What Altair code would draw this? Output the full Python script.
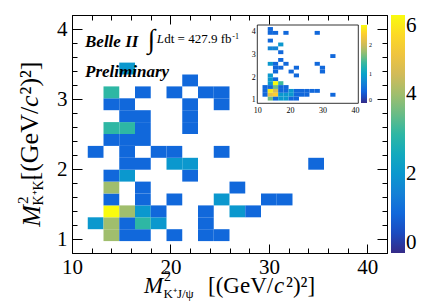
import altair as alt
import pandas as pd

W, H = 315, 238
FONT = "Liberation Serif"

# ---------------- data: main 2D histogram ----------------
bin_x0, bin_dx = 10.0, 1.6
bin_y0, bin_dy = 0.8, 0.17

main_ix = [2, 3, 4, 6, 8, 9,
           1, 2, 3, 4, 5, 8,
           2, 3, 4, 5, 8, 10, 11,
           2, 4, 6, 9, 12, 13,
           2, 4, 10,
           2, 3, 7,
           3, 4, 6, 7, 15,
           1, 3, 5, 6, 9,
           2, 3, 4,
           2, 3, 4, 7,
           3, 4, 7,
           2, 3, 7, 9,
           2, 4, 6, 8, 9,
           7,
           3]
main_iy = [1, 1, 1, 1, 1, 1,
           2, 2, 2, 2, 2, 2,
           3, 3, 3, 3, 3, 3, 3,
           4, 4, 4, 4, 4, 4,
           5, 5, 5,
           6, 6, 6,
           7, 7, 7, 7, 7,
           8, 8, 8, 8, 8,
           9, 9, 9,
           10, 10, 10, 10,
           11, 11, 11,
           12, 12, 12, 12,
           13, 13, 13, 13, 13,
           14,
           15]
main_n = [4, 1, 1, 1, 1, 1,
          2, 4, 1, 3, 2, 1,
          6, 4, 2, 1, 1, 2, 1,
          1, 1, 1, 2, 1, 1,
          4, 1, 1,
          1, 2, 1,
          1, 1, 2, 2, 1,
          1, 1, 1, 1, 1,
          1, 1, 1,
          3, 3, 1, 1,
          1, 1, 1,
          1, 1, 1, 1,
          3, 1, 1, 1, 1,
          1,
          2]

# ---------------- data: inset histogram ----------------
inset_ix = [2,
            2, 3, 5, 11,
            2,
            4,
            2, 3,
            4,
            14,
            4,
            2, 3, 5, 11,
            3, 4, 7, 12,
            3, 6, 12,
            2, 7,
            2, 3,
            2, 3, 4,
            1, 2, 3, 4, 5,
            1, 2, 3, 4, 5, 6, 7, 8, 9, 10, 11,
            1, 2, 3, 4, 5, 6, 7, 8, 9, 14,
            2, 3, 4, 5, 6, 7]
inset_iy = [19,
            18, 18, 18, 18,
            16,
            15,
            14, 14,
            13,
            12,
            11,
            10, 10, 10, 10,
            9, 9, 9, 9,
            8, 8, 8,
            7, 7,
            6, 6,
            5, 5, 5,
            4, 4, 4, 4, 4,
            3, 3, 3, 3, 3, 3, 3, 3, 3, 3, 3,
            2, 2, 2, 2, 2, 2, 2, 2, 2, 2,
            1, 1, 1, 1, 1, 1]
inset_v = [0.45,
           0.45, 0.45, 0.45, 0.45,
           0.45,
           0.9,
           0.7, 0.7,
           0.45,
           0.45,
           0.45,
           0.9, 0.45, 0.45, 0.45,
           0.45, 0.45, 0.45, 0.45,
           0.45, 0.45, 0.45,
           0.9, 0.45,
           0.9, 0.45,
           0.9, 2.7, 1.4,
           0.45, 0.45, 1.6, 0.45, 0.45,
           0.45, 2.6, 2.1, 0.45, 0.45, 0.9, 0.45, 0.45, 0.45, 0.45, 0.45,
           0.45, 2.2, 2.4, 0.9, 0.9, 0.9, 0.45, 0.45, 0.45, 0.45,
           1.6, 0.45, 0.9, 0.9, 0.45, 0.45]

# axis ticks / labels
x_major = [10, 20, 30, 40]
y_major = [1, 2, 3, 4]
x_ticks = [10, 12, 14, 16, 18, 20, 22, 24, 26, 28, 30, 32, 34, 36, 38, 40, 42]
y_ticks = [0.8, 1.0, 1.2, 1.4, 1.6, 1.8, 2.0, 2.2, 2.4, 2.6, 2.8, 3.0, 3.2,
           3.4, 3.6, 3.8, 4.0, 4.2]
z_labels = [0, 2, 4, 6]
inset_z_labels = [0, 1, 2]

# ROOT kBird palette
bird = ["#352a87", "#0f5cdd", "#1481d6", "#06a4ca", "#2eb7a4",
        "#87bf77", "#d1bb59", "#fec832", "#f9fb0e"]
main_stops = [0, 0.75, 1.5, 2.25, 3, 3.75, 4.5, 5.25, 6]
inset_stops = [0, 0.3375, 0.675, 1.0125, 1.35, 1.6875, 2.025, 2.3625, 2.7]

# ---------------- frames ----------------
main_df = pd.DataFrame({"ix": main_ix, "iy": main_iy, "n": main_n})
main_df["x0"] = bin_x0 + main_df["ix"] * bin_dx
main_df["x1"] = main_df["x0"] + bin_dx
main_df["y0"] = bin_y0 + main_df["iy"] * bin_dy
main_df["y1"] = main_df["y0"] + bin_dy

inset_df = pd.DataFrame({"ix": inset_ix, "iy": inset_iy, "v": inset_v})
inset_df["x0"] = bin_x0 + inset_df["ix"] * bin_dx
inset_df["x1"] = inset_df["x0"] + bin_dx
inset_df["y0"] = bin_y0 + inset_df["iy"] * bin_dy
inset_df["y1"] = inset_df["y0"] + bin_dy

XDOM = [10, 42]
YDOM = [0.8, 4.2]
IXDOM = [10, 41]
IYDOM = [0.85, 4.29]
IX_RANGE = [185.3, 286.3]
IY_RANGE = [88.3, 10]

frame_df = pd.DataFrame({"x": XDOM, "y": YDOM})
inset_frame_df = pd.DataFrame({"x0": [IXDOM[0]], "x1": [IXDOM[1]],
                               "y0": [IYDOM[0]], "y1": [IYDOM[1]]})

xsize = {"condition": {"test": "abs(datum.value - round(datum.value/10)*10) < 0.01", "value": 9}, "value": 5}
ysize = {"condition": {"test": "abs(datum.value - round(datum.value)) < 0.01", "value": 10}, "value": 5}


def xscale():
    return alt.Scale(domain=XDOM, nice=False, zero=False)


def yscale():
    return alt.Scale(domain=YDOM, nice=False, zero=False)


main = alt.Chart(main_df).mark_rect().encode(
    x=alt.X("x0:Q", scale=xscale(),
            axis=alt.Axis(values=x_major, ticks=False, grid=False, title=None,
                          domain=True, domainColor="black", domainWidth=1,
                          labelFont=FONT, labelFontSize=21, labelColor="black",
                          labelPadding=3, labelFlush=False, format="d")),
    x2="x1:Q",
    y=alt.Y("y0:Q", scale=yscale(),
            axis=alt.Axis(values=y_major, ticks=False, grid=False, title=None,
                          domain=True, domainColor="black", domainWidth=1,
                          labelFont=FONT, labelFontSize=21, labelColor="black",
                          labelPadding=5, labelFlush=False, format="d")),
    y2="y1:Q",
    color=alt.Color("n:Q",
                    scale=alt.Scale(domain=main_stops, range=bird, interpolate="rgb"),
                    legend=alt.Legend(orient="none", legendX=W + 4, legendY=0,
                                      direction="vertical", title=None,
                                      gradientLength=H, gradientThickness=14,
                                      gradientStrokeWidth=0, values=z_labels,
                                      labelFont=FONT, labelFontSize=21,
                                      labelColor="black", labelOffset=1,
                                      labelBaseline="middle", padding=0,
                                      format="d")),
)

# inward ticks: bottom & left edges
ticks_bl = alt.Chart(frame_df).mark_point(opacity=0).encode(
    x=alt.X("x:Q", scale=xscale(),
            axis=alt.Axis(orient="top", offset=-H, values=x_ticks, labels=False,
                          domain=False, grid=False, title=None, tickColor="black",
                          tickSize=xsize)),
    y=alt.Y("y:Q", scale=yscale(),
            axis=alt.Axis(orient="right", offset=-W, values=y_ticks, labels=False,
                          domain=False, grid=False, title=None, tickColor="black",
                          tickSize=ysize)),
)

# inward ticks: top & right edges, plus the frame lines
ticks_tr = alt.Chart(frame_df).mark_point(opacity=0).encode(
    x=alt.X("x:Q", scale=xscale(),
            axis=alt.Axis(orient="bottom", offset=-H, values=x_ticks, labels=False,
                          domain=True, domainColor="black", grid=False, title=None,
                          tickColor="black", tickSize=xsize)),
    y=alt.Y("y:Q", scale=yscale(),
            axis=alt.Axis(orient="left", offset=-W, values=y_ticks, labels=False,
                          domain=True, domainColor="black", grid=False, title=None,
                          tickColor="black", tickSize=ysize)),
)


def ixscale():
    return alt.Scale(domain=IXDOM, range=IX_RANGE, nice=False, zero=False)


def iyscale():
    return alt.Scale(domain=IYDOM, range=IY_RANGE, nice=False, zero=False)


inset_cells = alt.Chart(inset_df).mark_rect().encode(
    x=alt.X("x0:Q", scale=ixscale(),
            axis=alt.Axis(orient="bottom", offset=IY_RANGE[0] - H, values=x_major,
                          ticks=False, domain=False, grid=False, title=None,
                          labelFont=FONT, labelFontSize=8, labelColor="black",
                          labelPadding=3, labelFlush=False, format="d")),
    x2="x1:Q",
    y=alt.Y("y0:Q", scale=iyscale(),
            axis=alt.Axis(orient="left", offset=-IX_RANGE[0], values=y_major,
                          ticks=False, domain=False, grid=False, title=None,
                          labelFont=FONT, labelFontSize=8, labelColor="black",
                          labelPadding=2, labelFlush=False, format="d")),
    y2="y1:Q",
    color=alt.Color("v:Q",
                    scale=alt.Scale(domain=inset_stops, range=bird, interpolate="rgb"),
                    legend=alt.Legend(orient="none", legendX=289, legendY=10,
                                      direction="vertical", title=None,
                                      gradientLength=78, gradientThickness=6,
                                      gradientStrokeWidth=0, values=inset_z_labels,
                                      labelFont=FONT, labelFontSize=6,
                                      labelColor="black", labelOffset=2,
                                      labelBaseline="middle", padding=0,
                                      format="d")),
)

inset_frame = alt.Chart(inset_frame_df).mark_rect(
    fillOpacity=0, stroke="black", strokeWidth=0.8
).encode(
    x=alt.X("x0:Q", scale=ixscale()), x2="x1:Q",
    y=alt.Y("y0:Q", scale=iyscale()), y2="y1:Q",
)

inset = alt.layer(inset_cells, inset_frame)


def label(txt, x, y, size, style="normal", weight="normal", angle=0):
    return alt.Chart(alt.Data(values=[{}])).mark_text(
        text=txt, font=FONT, fontSize=size, fontStyle=style, fontWeight=weight,
        angle=angle, align="left", baseline="alphabetic", color="black"
    ).encode(x=alt.value(x), y=alt.value(y))


texts = [
    label("Belle II", 13, 31.7, 17, "italic", "bold"),
    label("Preliminary", 13, 61.7, 17, "italic", "bold"),
    label("\u222B", 75.5, 33, 27),
    label("L", 84.7, 28.3, 13, "italic"),
    label("dt = 427.9 fb", 92.2, 28.3, 13),
    label("-1", 160.3, 24, 8),
    # x title
    label("M", 72, 277.7, 23, "italic"),
    label("2", 92, 265.5, 14),
    label("K\u207AJ/\u03C8", 91.5, 283, 13),
    label("[(GeV/", 136, 277.7, 23),
    label("c", 202, 277.7, 23, "italic"),
    label("\u00B2)\u00B2]", 214, 277.7, 23),
    # y title (rotated)
    label("M", -32.3, 211.7, 26, "italic", angle=270),
    label("2", -44, 189, 15, angle=270),
    label("K\u207AK\u207B", -29.5, 190.5, 14, angle=270),
    label("[(GeV/", -34, 165.5, 26, angle=270),
    label("c", -34, 165.5 - 73.6, 26, "italic", angle=270),
    label("\u00B2)\u00B2]", -34, 165.5 - 73.6 - 12.5, 26, angle=270),
]

chart = alt.layer(main, ticks_bl, ticks_tr, inset, *texts).resolve_scale(
    x="independent", y="independent", color="independent"
).properties(
    width=W, height=H,
    autosize=alt.AutoSizeParams(type="none"),
    padding={"left": 64, "top": 7, "right": 30, "bottom": 50},
).configure_view(stroke=None).configure(background="white")

chart.save("out.html", embed_options={"renderer": "svg", "actions": False})
